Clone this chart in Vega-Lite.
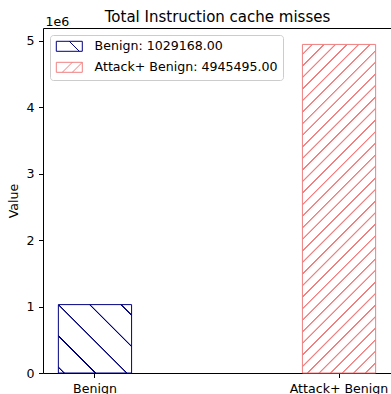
{
  "$schema": "https://vega.github.io/schema/vega-lite/v6.json",
  "width": 348,
  "height": 345,
  "autosize": {"type": "none"},
  "padding": {"left": 43, "top": 28, "right": 0, "bottom": 21},
  "background": "white",
  "config": {
    "font": "DejaVu Sans",
    "view": {"stroke": "#000000", "strokeWidth": 1},
    "axis": {
      "grid": false, "domain": false,
      "tickColor": "#000000", "tickSize": 4.5, "tickWidth": 1,
      "labelColor": "#000000", "labelFontSize": 12.6, "labelFont": "DejaVu Sans", "labelPadding": 4.5,
      "titleFont": "DejaVu Sans", "titleFontWeight": "normal", "titleColor": "#000000", "titleFontSize": 12.6
    },
    "legend": {
      "orient": "top-left", "offset": 7, "padding": 5,
      "fillColor": "rgba(255,255,255,0.8)", "strokeColor": "#cccccc", "cornerRadius": 3,
      "labelFont": "DejaVu Sans", "labelFontSize": 12.6, "labelColor": "#000000", "labelLimit": 400,
      "labelOffset": 27, "symbolSize": 100, "symbolStrokeWidth": 1, "symbolOpacity": 1,
      "rowPadding": 6
    }
  },
  "datasets": {
    "bars": [
      {"category": "Benign", "value": 1029168, "series": "Benign: 1029168.00"},
      {"category": "Attack+ Benign", "value": 4945495, "series": "Attack+ Benign: 4945495.00"}
    ]
  },
  "data": {"name": "bars"},
  "resolve": {"axis": {"x": "independent", "y": "shared"}},
  "layer": [
    {
      "transform": [{"filter": "datum.category === 'Benign'"}],
      "mark": {
        "type": "bar", "stroke": "navy", "strokeWidth": 1,
        "fill": {
          "gradient": "linear", "x1": 0, "y1": 1, "x2": 1.0329, "y2": 0.0351,
          "stops": [
            {"offset": 0, "color": "white"},
            {"offset": 0.0328, "color": "white"}, {"offset": 0.0368, "color": "navy"}, {"offset": 0.0448, "color": "navy"}, {"offset": 0.0488, "color": "white"},
            {"offset": 0.2539, "color": "white"}, {"offset": 0.2579, "color": "navy"}, {"offset": 0.2659, "color": "navy"}, {"offset": 0.2699, "color": "white"},
            {"offset": 0.4750, "color": "white"}, {"offset": 0.4790, "color": "navy"}, {"offset": 0.4870, "color": "navy"}, {"offset": 0.4910, "color": "white"},
            {"offset": 0.6961, "color": "white"}, {"offset": 0.7001, "color": "navy"}, {"offset": 0.7081, "color": "navy"}, {"offset": 0.7121, "color": "white"},
            {"offset": 0.9172, "color": "white"}, {"offset": 0.9212, "color": "navy"}, {"offset": 0.9292, "color": "navy"}, {"offset": 0.9332, "color": "white"},
            {"offset": 1, "color": "white"}
          ]
        }
      },
      "encoding": {
        "x": {
          "field": "category", "type": "nominal",
          "scale": {"type": "band", "domain": ["Benign", "Attack+ Benign"], "paddingInner": 0.7, "paddingOuter": 0.063},
          "axis": {"orient": "bottom", "title": null, "labelAngle": 0}
        },
        "y": {
          "field": "value", "type": "quantitative",
          "scale": {"domain": [0, 5192770], "nice": false, "zero": true},
          "axis": {
            "title": "Value", "titlePadding": 5,
            "values": [0, 1000000, 2000000, 3000000, 4000000, 5000000],
            "labelExpr": "format(datum.value / 1000000, 'd')"
          }
        }
      }
    },
    {
      "transform": [{"filter": "datum.category === 'Attack+ Benign'"}],
      "mark": {
        "type": "bar", "stroke": "#F08080", "strokeWidth": 1,
        "fill": {
          "gradient": "linear", "x1": 0, "y1": 0, "x2": 0.2596, "y2": 1.1650,
          "stops": [
            {"offset": 0, "color": "white"},
            {"offset": 0.0219, "color": "white"}, {"offset": 0.0234, "color": "#F08080"}, {"offset": 0.0264, "color": "#F08080"}, {"offset": 0.0279, "color": "white"},
            {"offset": 0.0507, "color": "white"}, {"offset": 0.0522, "color": "#F08080"}, {"offset": 0.0552, "color": "#F08080"}, {"offset": 0.0567, "color": "white"},
            {"offset": 0.0794, "color": "white"}, {"offset": 0.0809, "color": "#F08080"}, {"offset": 0.0839, "color": "#F08080"}, {"offset": 0.0854, "color": "white"},
            {"offset": 0.1082, "color": "white"}, {"offset": 0.1097, "color": "#F08080"}, {"offset": 0.1127, "color": "#F08080"}, {"offset": 0.1142, "color": "white"},
            {"offset": 0.1370, "color": "white"}, {"offset": 0.1385, "color": "#F08080"}, {"offset": 0.1415, "color": "#F08080"}, {"offset": 0.1430, "color": "white"},
            {"offset": 0.1658, "color": "white"}, {"offset": 0.1673, "color": "#F08080"}, {"offset": 0.1703, "color": "#F08080"}, {"offset": 0.1718, "color": "white"},
            {"offset": 0.1945, "color": "white"}, {"offset": 0.1960, "color": "#F08080"}, {"offset": 0.1990, "color": "#F08080"}, {"offset": 0.2005, "color": "white"},
            {"offset": 0.2233, "color": "white"}, {"offset": 0.2248, "color": "#F08080"}, {"offset": 0.2278, "color": "#F08080"}, {"offset": 0.2293, "color": "white"},
            {"offset": 0.2521, "color": "white"}, {"offset": 0.2536, "color": "#F08080"}, {"offset": 0.2566, "color": "#F08080"}, {"offset": 0.2581, "color": "white"},
            {"offset": 0.2809, "color": "white"}, {"offset": 0.2824, "color": "#F08080"}, {"offset": 0.2854, "color": "#F08080"}, {"offset": 0.2869, "color": "white"},
            {"offset": 0.3096, "color": "white"}, {"offset": 0.3111, "color": "#F08080"}, {"offset": 0.3141, "color": "#F08080"}, {"offset": 0.3156, "color": "white"},
            {"offset": 0.3384, "color": "white"}, {"offset": 0.3399, "color": "#F08080"}, {"offset": 0.3429, "color": "#F08080"}, {"offset": 0.3444, "color": "white"},
            {"offset": 0.3672, "color": "white"}, {"offset": 0.3687, "color": "#F08080"}, {"offset": 0.3717, "color": "#F08080"}, {"offset": 0.3732, "color": "white"},
            {"offset": 0.3959, "color": "white"}, {"offset": 0.3974, "color": "#F08080"}, {"offset": 0.4004, "color": "#F08080"}, {"offset": 0.4019, "color": "white"},
            {"offset": 0.4247, "color": "white"}, {"offset": 0.4262, "color": "#F08080"}, {"offset": 0.4292, "color": "#F08080"}, {"offset": 0.4307, "color": "white"},
            {"offset": 0.4535, "color": "white"}, {"offset": 0.4550, "color": "#F08080"}, {"offset": 0.4580, "color": "#F08080"}, {"offset": 0.4595, "color": "white"},
            {"offset": 0.4823, "color": "white"}, {"offset": 0.4838, "color": "#F08080"}, {"offset": 0.4868, "color": "#F08080"}, {"offset": 0.4883, "color": "white"},
            {"offset": 0.5110, "color": "white"}, {"offset": 0.5125, "color": "#F08080"}, {"offset": 0.5155, "color": "#F08080"}, {"offset": 0.5170, "color": "white"},
            {"offset": 0.5398, "color": "white"}, {"offset": 0.5413, "color": "#F08080"}, {"offset": 0.5443, "color": "#F08080"}, {"offset": 0.5458, "color": "white"},
            {"offset": 0.5686, "color": "white"}, {"offset": 0.5701, "color": "#F08080"}, {"offset": 0.5731, "color": "#F08080"}, {"offset": 0.5746, "color": "white"},
            {"offset": 0.5974, "color": "white"}, {"offset": 0.5989, "color": "#F08080"}, {"offset": 0.6019, "color": "#F08080"}, {"offset": 0.6034, "color": "white"},
            {"offset": 0.6261, "color": "white"}, {"offset": 0.6276, "color": "#F08080"}, {"offset": 0.6306, "color": "#F08080"}, {"offset": 0.6321, "color": "white"},
            {"offset": 0.6549, "color": "white"}, {"offset": 0.6564, "color": "#F08080"}, {"offset": 0.6594, "color": "#F08080"}, {"offset": 0.6609, "color": "white"},
            {"offset": 0.6837, "color": "white"}, {"offset": 0.6852, "color": "#F08080"}, {"offset": 0.6882, "color": "#F08080"}, {"offset": 0.6897, "color": "white"},
            {"offset": 0.7124, "color": "white"}, {"offset": 0.7139, "color": "#F08080"}, {"offset": 0.7169, "color": "#F08080"}, {"offset": 0.7184, "color": "white"},
            {"offset": 0.7412, "color": "white"}, {"offset": 0.7427, "color": "#F08080"}, {"offset": 0.7457, "color": "#F08080"}, {"offset": 0.7472, "color": "white"},
            {"offset": 0.7700, "color": "white"}, {"offset": 0.7715, "color": "#F08080"}, {"offset": 0.7745, "color": "#F08080"}, {"offset": 0.7760, "color": "white"},
            {"offset": 0.7988, "color": "white"}, {"offset": 0.8003, "color": "#F08080"}, {"offset": 0.8033, "color": "#F08080"}, {"offset": 0.8048, "color": "white"},
            {"offset": 0.8275, "color": "white"}, {"offset": 0.8290, "color": "#F08080"}, {"offset": 0.8320, "color": "#F08080"}, {"offset": 0.8335, "color": "white"},
            {"offset": 0.8563, "color": "white"}, {"offset": 0.8578, "color": "#F08080"}, {"offset": 0.8608, "color": "#F08080"}, {"offset": 0.8623, "color": "white"},
            {"offset": 0.8851, "color": "white"}, {"offset": 0.8866, "color": "#F08080"}, {"offset": 0.8896, "color": "#F08080"}, {"offset": 0.8911, "color": "white"},
            {"offset": 0.9139, "color": "white"}, {"offset": 0.9154, "color": "#F08080"}, {"offset": 0.9184, "color": "#F08080"}, {"offset": 0.9199, "color": "white"},
            {"offset": 0.9426, "color": "white"}, {"offset": 0.9441, "color": "#F08080"}, {"offset": 0.9471, "color": "#F08080"}, {"offset": 0.9486, "color": "white"},
            {"offset": 0.9714, "color": "white"}, {"offset": 0.9729, "color": "#F08080"}, {"offset": 0.9759, "color": "#F08080"}, {"offset": 0.9774, "color": "white"},
            {"offset": 1, "color": "white"}
          ]
        }
      },
      "encoding": {
        "x": {
          "field": "category", "type": "nominal",
          "scale": {"type": "band", "domain": ["Benign", "Attack+ Benign"], "paddingInner": 0.7, "paddingOuter": 0.063},
          "axis": {
            "orient": "top", "labels": false, "ticks": false, "domain": false,
            "title": "Total Instruction cache misses", "titleFontSize": 15,
            "titleX": 174, "titleY": -7, "titleAlign": "center", "titleBaseline": "alphabetic", "titleAngle": 0
          }
        },
        "y": {
          "field": "value", "type": "quantitative",
          "scale": {"domain": [0, 5192770], "nice": false, "zero": true},
          "axis": {
            "title": "Value", "titlePadding": 5,
            "values": [0, 1000000, 2000000, 3000000, 4000000, 5000000],
            "labelExpr": "format(datum.value / 1000000, 'd')"
          }
        }
      }
    },
    {
      "mark": {"type": "point", "filled": false, "opacity": 0, "strokeWidth": 1},
      "encoding": {
        "x": {
          "field": "category", "type": "nominal",
          "scale": {"type": "band", "domain": ["Benign", "Attack+ Benign"], "paddingInner": 0.7, "paddingOuter": 0.063},
          "axis": {
            "orient": "top", "labels": false, "ticks": false, "domain": false,
            "title": "1e6", "titleFontSize": 12.6,
            "titleX": 2, "titleY": -3, "titleAlign": "left", "titleBaseline": "alphabetic", "titleAngle": 0
          }
        },
        "y": {
          "field": "value", "type": "quantitative",
          "scale": {"domain": [0, 5192770], "nice": false, "zero": true},
          "axis": {
            "title": "Value", "titlePadding": 5,
            "values": [0, 1000000, 2000000, 3000000, 4000000, 5000000],
            "labelExpr": "format(datum.value / 1000000, 'd')"
          }
        },
        "stroke": {
          "field": "series", "type": "nominal",
          "scale": {"domain": ["Benign: 1029168.00", "Attack+ Benign: 4945495.00"], "range": ["navy", "#F08080"]},
          "legend": {"title": null}
        },
        "shape": {
          "field": "series", "type": "nominal",
          "scale": {
            "domain": ["Benign: 1029168.00", "Attack+ Benign: 4945495.00"],
            "range": ["M-1,-1H4.2V1H-1Z M1.6,-1L3.6,1", "M-1,-1H4.2V1H-1Z M0.2,1L2.2,-1 M2.2,1L4.2,-1"]
          },
          "legend": {"title": null}
        }
      }
    }
  ]
}
